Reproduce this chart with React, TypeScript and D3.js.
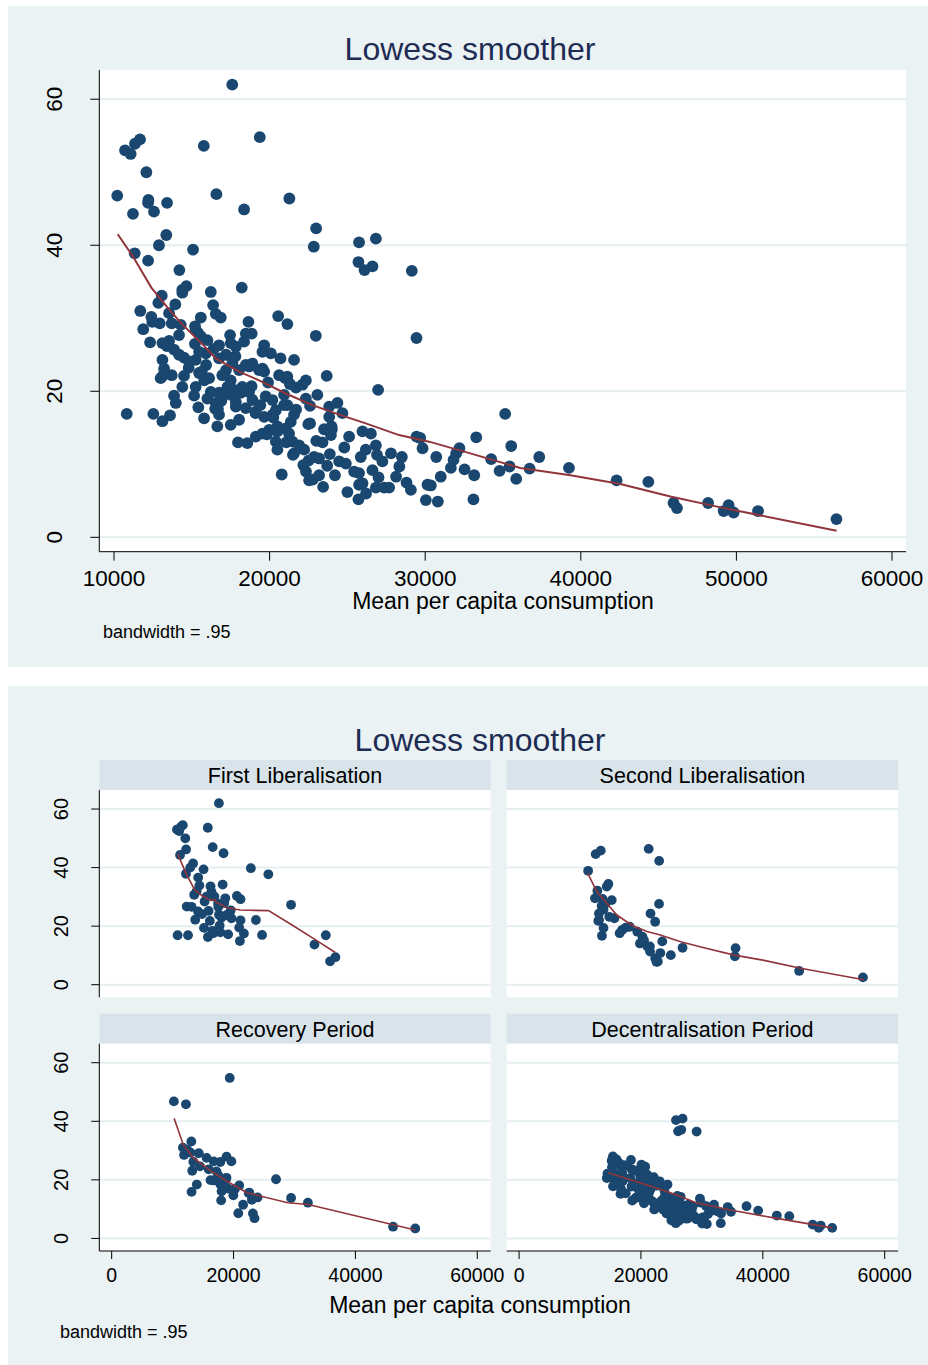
import React from "react";
import * as d3 from "d3";

type Pt = [number, number];

// Mean per capita consumption (x) vs. outcome (y), by period
const firstLiberalisation: Pt[] = [
  [17600, 62.0], [15770, 53.6], [11670, 54.5], [11350, 53.9], [10710, 53.0], [11070, 52.5],
  [12080, 50.0], [12210, 46.2], [11220, 44.3], [16580, 47.0], [18360, 44.9], [22840, 39.8],
  [25710, 37.7], [13360, 41.4], [12890, 40.0], [12190, 37.9], [15080, 39.4], [14200, 36.6],
  [14390, 33.9], [16220, 33.6], [18210, 34.2], [13940, 31.9], [16370, 31.8], [13540, 30.7],
  [15580, 30.1], [16540, 30.6], [16860, 30.1], [20550, 30.3], [21140, 29.2], [18640, 29.5],
  [15250, 28.4], [17460, 27.7], [18470, 27.9], [29440, 27.3], [12320, 26.7], [13110, 26.6],
  [17500, 26.6], [14180, 25.0], [15900, 25.2], [19540, 25.4], [14820, 24.1], [17610, 23.9],
  [18890, 23.8], [19650, 22.7], [13710, 22.2], [16110, 21.8], [18040, 22.9], [21140, 22.0],
  [23670, 22.1], [15150, 19.4], [17720, 20.2], [20930, 19.5], [24680, 17.0], [10820, 16.9],
  [12530, 16.9], [15790, 16.3], [16540, 18.4], [17830, 17.9], [19110, 17.2], [21040, 14.9],
  [21700, 17.5], [16680, 17.6], [35140, 16.9], [33280, 13.7], [35850, 8.0], [36710, 9.4],
];

const secondLiberalisation: Pt[] = [
  [13410, 45.8], [12570, 44.6], [21270, 46.4], [22990, 42.3], [11330, 38.9], [14650, 34.4],
  [12850, 32.1], [12460, 29.5], [13710, 29.3], [14180, 27.7], [22970, 27.6], [13540, 26.9],
  [13860, 25.7], [21570, 24.3], [13110, 24.3], [13000, 21.8], [22330, 21.5], [13860, 19.4],
  [13600, 16.7], [21470, 13.1], [23180, 10.8], [26830, 12.6], [24900, 10.1], [22540, 7.8],
  [35420, 9.7], [35530, 12.5], [45960, 4.7], [56430, 2.5], [18150, 19.8], [19400, 18.1],
  [20240, 16.4], [21070, 13.0], [19830, 14.1], [21500, 11.3], [22340, 9.0], [22770, 7.9],
  [16900, 18.7], [14800, 23.2], [15640, 22.7], [16500, 17.6], [13130, 22.1], [15210, 28.9],
  [14390, 33.5], [23500, 14.8], [17500, 19.5], [20500, 15.2],
];

const recoveryPeriod: Pt[] = [
  [19370, 54.8], [10210, 46.8], [12190, 45.8], [13070, 33.1], [11690, 31.0], [12940, 29.3],
  [11880, 28.5], [14290, 29.1], [15580, 27.5], [18850, 27.9], [16750, 26.3], [17830, 26.1],
  [19650, 26.3], [13220, 23.1], [17500, 21.5], [16220, 19.9], [18680, 19.9], [13970, 18.4],
  [13110, 15.9], [18040, 16.1], [20930, 18.1], [22490, 15.5], [17970, 13.0], [19970, 14.7],
  [21570, 11.5], [23940, 14.0], [20780, 8.6], [23180, 8.5], [23440, 6.9], [29440, 13.8],
  [26975, 20.2], [32200, 12.2], [46180, 4.0], [49820, 3.4], [16760, 19.8], [17830, 18.5],
  [18840, 20.7], [15920, 23.6], [14500, 24.6], [12400, 30.2], [13400, 26.2], [20200, 16.8],
  [22600, 15.6], [23000, 13.2], [17200, 22.9], [19100, 17.0],
];

const decentralisationPeriod: Pt[] = [
  [25750, 40.4], [26830, 40.9], [26100, 36.6], [26610, 37.1], [29140, 36.5], [18360, 26.8],
  [15470, 25.4], [20080, 25.2], [20700, 24.5], [15250, 24.3], [16750, 24.5], [18470, 23.6],
  [19540, 23.1], [14500, 22.1], [15470, 22.5], [16960, 22.2], [18680, 23.4], [19320, 22.9],
  [20610, 22.2], [22110, 20.9], [14390, 20.6], [15250, 20.6], [17290, 20.6], [18250, 20.6],
  [19750, 19.3], [20180, 18.8], [21140, 18.1], [22330, 19.0], [23070, 19.5], [23830, 17.9],
  [24360, 18.4], [15420, 17.8], [16750, 16.8], [16640, 15.2], [17500, 15.4], [18470, 17.7],
  [19650, 16.5], [20400, 17.4], [21570, 16.8], [21360, 15.8], [18570, 12.9], [19110, 13.8],
  [19540, 14.2], [20500, 14.5], [20400, 13.1], [20500, 12.0], [21250, 14.2], [21900, 12.6],
  [22220, 12.0], [22860, 11.0], [22170, 9.9], [23870, 11.4], [23980, 15.2], [23830, 16.5],
  [25110, 13.8], [25970, 14.5], [26510, 14.2], [26180, 12.0], [25860, 11.0], [24470, 10.4],
  [25430, 9.0], [25750, 8.8], [26610, 9.2], [27250, 10.4], [28340, 9.7], [28130, 8.3],
  [25000, 6.2], [25750, 7.2], [25970, 7.4], [25710, 5.2], [26830, 6.8], [27360, 6.8],
  [27680, 6.8], [29080, 6.5], [30040, 5.1], [30150, 7.2], [29830, 12.2], [29680, 13.6],
  [30710, 11.0], [31990, 11.5], [31820, 10.6], [31650, 9.5], [32530, 9.3], [33150, 8.5],
  [30360, 7.1], [30810, 4.9], [33100, 5.2], [34240, 10.7], [34780, 9.1], [37330, 11.0],
  [39240, 9.5], [42300, 7.8], [44340, 7.6], [48180, 4.7], [49500, 4.4], [49180, 3.6],
  [51390, 3.6], [15400, 28.0], [16000, 27.0], [15200, 26.5], [16400, 25.8], [17200, 25.0],
  [17800, 24.8], [21000, 21.8], [21700, 20.5], [22600, 18.0], [24000, 14.8], [23400, 13.0],
  [24800, 12.3], [26900, 11.3], [27800, 11.5], [28500, 11.0], [24200, 8.5], [26200, 6.0],
  [27000, 8.2], [23700, 9.8], [22500, 10.5], [31000, 8.3], [28800, 7.5], [16000, 19.0],
  [17000, 19.5], [18900, 18.8], [19900, 21.2], [21300, 21.0], [15800, 21.5],
];

// Lowess fits (bandwidth .95)
const lowessAll: Pt[] = [
  [10240, 41.5], [11240, 38.4], [12400, 34.2], [13472, 31.4], [14330, 29.3], [15610, 26.6],
  [16540, 24.5], [18040, 22.7], [19320, 21.5], [21040, 19.7], [22750, 18.1], [24470, 16.8],
  [26180, 15.6], [28320, 14.0], [30250, 13.1], [32900, 11.5], [36110, 9.5], [39330, 8.5],
  [42540, 7.3], [45760, 5.6], [48980, 4.1], [56440, 0.9],
];
const lowessFirst: Pt[] = [
  [10830, 44.6], [12310, 37.5], [13670, 32.3], [15030, 30.1], [16410, 28.7], [16950, 29.2],
  [17100, 28.3], [17500, 27.8], [18870, 26.4], [21060, 25.5], [25740, 25.3], [29600, 20.4],
  [33470, 15.3], [36700, 11.0],
];
const lowessSecond: Pt[] = [
  [11280, 38.0], [12750, 31.8], [14390, 27.8], [16030, 23.8], [17670, 21.5], [19040, 19.8],
  [21000, 18.2], [23170, 17.0], [26530, 14.7], [30000, 12.8], [35320, 10.1], [40000, 8.4],
  [46200, 5.6], [56600, 1.7],
];
const lowessRecovery: Pt[] = [
  [10250, 41.0], [11735, 32.1], [13410, 27.5], [15920, 23.6], [18840, 19.6], [22200, 15.6],
  [28900, 12.2], [32250, 11.6], [49830, 2.9],
];
const lowessDecentral: Pt[] = [
  [14640, 22.4], [18150, 20.1], [21500, 17.9], [25690, 15.0], [29050, 12.2], [34890, 9.6],
  [41600, 7.1], [51400, 3.6],
];

const periodNames = [
  "First Liberalisation",
  "Second Liberalisation",
  "Recovery Period",
  "Decentralisation Period",
];
const periodData = [firstLiberalisation, secondLiberalisation, recoveryPeriod, decentralisationPeriod];
const periodLowess = [lowessFirst, lowessSecond, lowessRecovery, lowessDecentral];

const topXTicks = [10000, 20000, 30000, 40000, 50000, 60000];
const facetXTicks = [0, 20000, 40000, 60000];
const yTicks = [0, 20, 40, 60];

const BG = "#eaf2f3";
const GRID = "#e6eef1";
const HEADER = "#d8e4ea";
const MARKER = "#1a476f";
const LINE = "#90353b";
const TITLE = "#1e2c54";
const FONT = "'Liberation Sans', Arial, Helvetica, sans-serif";

function Facet({ i, left, top, width, height, showY, showX }: any) {
  const x = d3.scaleLinear().domain([-2030, 62200]).range([left, left + width]);
  const y = d3.scaleLinear().domain([-4.3, 66.5]).range([top + height, top]);
  const line = d3.line<Pt>().x((d) => x(d[0])).y((d) => y(d[1]));
  return (
    <g>
      <rect x={left} y={top - 30} width={width} height={30} fill={HEADER} />
      <text x={left + width / 2} y={top - 7} textAnchor="middle" fontSize={21.5} fill="#000">
        {periodNames[i]}
      </text>
      <rect x={left} y={top} width={width} height={height} fill="#fff" />
      {yTicks.map((t) => (
        <line key={t} x1={left} x2={left + width} y1={y(t)} y2={y(t)} stroke={GRID} strokeWidth={2} />
      ))}
      {periodData[i].map((d, k) => (
        <circle key={k} cx={x(d[0])} cy={y(d[1])} r={4.9} fill={MARKER} />
      ))}
      <path d={line(periodLowess[i]) || ""} fill="none" stroke={LINE} strokeWidth={1.6} />
      {showY && (
        <g>
          <line x1={left} x2={left} y1={top} y2={top + height} stroke="#000" strokeWidth={1} />
          {yTicks.map((t) => (
            <g key={t}>
              <line x1={left - 8} x2={left} y1={y(t)} y2={y(t)} stroke="#000" strokeWidth={1} />
              <text
                transform={`translate(${left - 31},${y(t)}) rotate(-90)`}
                textAnchor="middle"
                fontSize={20}
                fill="#000"
              >
                {t}
              </text>
            </g>
          ))}
        </g>
      )}
      {showX && (
        <g>
          <line x1={left} x2={left + width} y1={top + height} y2={top + height} stroke="#000" strokeWidth={1} />
          {facetXTicks.map((t) => (
            <g key={t}>
              <line x1={x(t)} x2={x(t)} y1={top + height} y2={top + height + 8} stroke="#000" strokeWidth={1} />
              <text x={x(t)} y={top + height + 31} textAnchor="middle" fontSize={19.5} fill="#000">
                {t}
              </text>
            </g>
          ))}
        </g>
      )}
    </g>
  );
}

export default function App() {
  const allPoints: Pt[] = [...firstLiberalisation, ...secondLiberalisation, ...recoveryPeriod, ...decentralisationPeriod];
  // Top panel
  const pL = 99.3, pR = 906, pT = 70, pB = 551.7;
  const x = d3.scaleLinear().domain([9055, 60900]).range([pL, pR]);
  const y = d3.scaleLinear().domain([-1.97, 64.0]).range([pB, pT]);
  const line = d3.line<Pt>().x((d) => x(d[0])).y((d) => y(d[1]));

  const cols = [99.3, 506.7];
  const rows = [790, 1043.7];
  const fw = 391.4, fh = 207.3;

  return (
    <svg
      width={928}
      height={1365}
      style={{ position: "absolute", left: 0, top: 0, fontFamily: FONT }}
    >
      <rect x={0} y={0} width={928} height={1365} fill="#fff" />
      {/* ---------- Top graph ---------- */}
      <rect x={8} y={6} width={920} height={661} fill={BG} />
      <text x={470} y={60} textAnchor="middle" fontSize={32} fill={TITLE}>
        Lowess smoother
      </text>
      <rect x={pL} y={pT} width={pR - pL} height={pB - pT} fill="#fff" />
      {yTicks.map((t) => (
        <line key={t} x1={pL} x2={pR} y1={y(t)} y2={y(t)} stroke={GRID} strokeWidth={2} />
      ))}
      {allPoints.map((d, k) => (
        <circle key={k} cx={x(d[0])} cy={y(d[1])} r={5.9} fill={MARKER} />
      ))}
      <path d={line(lowessAll) || ""} fill="none" stroke={LINE} strokeWidth={2} />
      <line x1={pL} x2={pL} y1={pT} y2={pB} stroke="#000" strokeWidth={1} />
      <line x1={pL} x2={pR} y1={pB} y2={pB} stroke="#000" strokeWidth={1} />
      {yTicks.map((t) => (
        <g key={t}>
          <line x1={pL - 9} x2={pL} y1={y(t)} y2={y(t)} stroke="#000" strokeWidth={1} />
          <text transform={`translate(${pL - 37},${y(t)}) rotate(-90)`} textAnchor="middle" fontSize={22.5} fill="#000">
            {t}
          </text>
        </g>
      ))}
      {topXTicks.map((t) => (
        <g key={t}>
          <line x1={x(t)} x2={x(t)} y1={pB} y2={pB + 9} stroke="#000" strokeWidth={1} />
          <text x={x(t)} y={pB + 34} textAnchor="middle" fontSize={22.5} fill="#000">
            {t}
          </text>
        </g>
      ))}
      <text x={503} y={609} textAnchor="middle" fontSize={23} fill="#000">
        Mean per capita consumption
      </text>
      <text x={103} y={638} fontSize={18} fill="#000">
        bandwidth = .95
      </text>

      {/* ---------- Bottom graph (by period) ---------- */}
      <rect x={8} y={686} width={920} height={679} fill={BG} />
      <text x={480} y={751} textAnchor="middle" fontSize={32} fill={TITLE}>
        Lowess smoother
      </text>
      {periodNames.map((_, i) => {
        const c = i % 2, r = Math.floor(i / 2);
        return (
          <Facet key={i} i={i} left={cols[c]} top={rows[r]} width={fw} height={fh} showY={c === 0} showX={r === 1} />
        );
      })}
      <text x={480} y={1313} textAnchor="middle" fontSize={23} fill="#000">
        Mean per capita consumption
      </text>
      <text x={60} y={1338} fontSize={18} fill="#000">
        bandwidth = .95
      </text>
    </svg>
  );
}
